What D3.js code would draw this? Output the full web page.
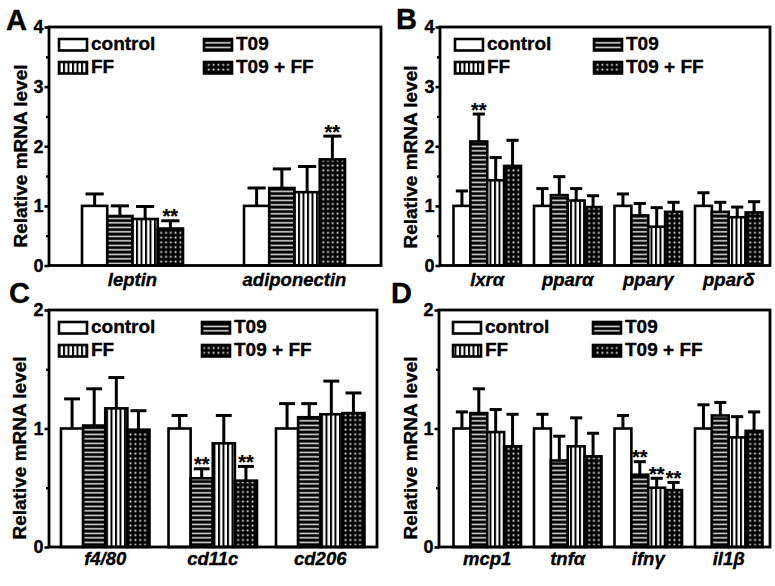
<!DOCTYPE html>
<html><head><meta charset="utf-8">
<script src="https://cdn.jsdelivr.net/npm/d3@7"></script>
<style>
body{margin:0;background:#fff}
text{font-family:"Liberation Sans",Arial,Helvetica,sans-serif;font-weight:bold;fill:#000;stroke:#000;stroke-width:0.35px}
</style></head>
<body><svg id="chart" width="775" height="586"></svg>
<script>
// ---------- data ----------
const seriesNames = ["control", "T09", "FF", "T09 + FF"];

const catsA = ["leptin", "adiponectin"];
const meanA = [[1.00, 0.83, 0.78, 0.62], [1.00, 1.30, 1.23, 1.78]];
const sdA   = [[0.20, 0.17, 0.21, 0.13], [0.30, 0.32, 0.43, 0.39]];
const sigA  = [[0, 3], [1, 3]];

const catsB = ["lxrα", "pparα", "pparγ", "pparδ"];
const meanB = [[1.00, 2.08, 1.43, 1.67], [1.00, 1.18, 1.09, 0.98], [1.00, 0.84, 0.65, 0.90], [1.00, 0.90, 0.81, 0.89]];
const sdB   = [[0.25, 0.46, 0.38, 0.43], [0.29, 0.31, 0.20, 0.19], [0.20, 0.20, 0.32, 0.16], [0.22, 0.16, 0.17, 0.18]];
const sigB  = [[0, 1]];

const catsC = ["f4/80", "cd11c", "cd206"];
const meanC = [[1.00, 1.025, 1.17, 0.99], [1.00, 0.58, 0.875, 0.56], [1.00, 1.095, 1.12, 1.13]];
const sdC   = [[0.25, 0.31, 0.26, 0.16], [0.11, 0.08, 0.235, 0.12], [0.21, 0.115, 0.28, 0.17]];
const sigC  = [[1, 1], [1, 3]];

const catsD = ["mcp1", "tnfα", "ifnγ", "il1β"];
const meanD = [[1.00, 1.13, 0.97, 0.85], [1.00, 0.73, 0.85, 0.765], [1.00, 0.61, 0.50, 0.48], [1.00, 1.11, 0.925, 0.98]];
const sdD   = [[0.14, 0.205, 0.19, 0.27], [0.12, 0.205, 0.24, 0.195], [0.11, 0.11, 0.08, 0.065], [0.20, 0.11, 0.175, 0.16]];
const sigD  = [[2, 1], [2, 2], [2, 3]];

const yTicks4 = [0, 1, 2, 3, 4];
const yMinor4 = [0.5, 1.5, 2.5, 3.5];
const yTicks2 = [0, 1, 2];
const yMinor2 = [0.5, 1.5];
const yTitle = "Relative mRNA level";
const panelLetters = ["A", "B", "C", "D"];

// ---------- layout ----------
const svg = d3.select("#chart");
const defs = svg.append("defs");
const pH = defs.append("pattern").attr("id", "pH").attr("patternUnits", "userSpaceOnUse").attr("width", 4.5).attr("height", 4.5);
pH.append("rect").attr("width", 4.5).attr("height", 4.5).attr("fill", "#000");
pH.append("rect").attr("y", 1.6).attr("width", 4.5).attr("height", 1.5).attr("fill", "#e6e6e6");
const pV = defs.append("pattern").attr("id", "pV").attr("patternUnits", "userSpaceOnUse").attr("width", 4.5).attr("height", 4.5);
pV.append("rect").attr("width", 4.5).attr("height", 4.5).attr("fill", "#fff");
pV.append("rect").attr("x", 0).attr("width", 2).attr("height", 4.5).attr("fill", "#000");
const pD = defs.append("pattern").attr("id", "pD").attr("patternUnits", "userSpaceOnUse").attr("width", 4.8).attr("height", 4.8);
pD.append("rect").attr("width", 4.8).attr("height", 4.8).attr("fill", "#000");
pD.append("rect").attr("x", 1.5).attr("y", 1.5).attr("width", 1.8).attr("height", 1.8).attr("fill", "#f0f0f0");
const fills = ["#fff", "url(#pH)", "url(#pV)", "url(#pD)"];

const panels = [
  {cats: catsA, mean: meanA, sd: sdA, sig: sigA, ymax: 4, ticks: yTicks4, minor: yMinor4,
   left: 49, right: 381, top: 27, bottom: 265.5, band: [82, 345], pad: 0.3765,
   leg: [59, 204], legY: [39, 62], labelY: 286, title: [26.5, 156], letter: [6, 29.5]},
  {cats: catsB, mean: meanB, sd: sdB, sig: sigB, ymax: 4, ticks: yTicks4, minor: yMinor4,
   left: 440, right: 770, top: 27, bottom: 265.5, band: [453.5, 762.5], pad: 0.1615,
   leg: [455, 594], legY: [39, 62], labelY: 286, title: [416.5, 157], letter: [396, 28.5]},
  {cats: catsC, mean: meanC, sd: sdC, sig: sigC, ymax: 2, ticks: yTicks2, minor: yMinor2,
   left: 49, right: 377, top: 310, bottom: 547, band: [61, 364.5], pad: 0.1767,
   leg: [59, 202], legY: [322, 345], labelY: 565, title: [26, 448], letter: [9, 303]},
  {cats: catsD, mean: meanD, sd: sdD, sig: sigD, ymax: 2, ticks: yTicks2, minor: yMinor2,
   left: 439, right: 770, top: 310, bottom: 547, band: [453.5, 762.5], pad: 0.1615,
   leg: [453, 593], legY: [322, 345], labelY: 565, title: [416.5, 448], letter: [391, 303]}
];

panels.forEach((p, pi) => {
  const g = svg.append("g");
  const y = d3.scaleLinear().domain([0, p.ymax]).range([p.bottom, p.top]);
  const x0 = d3.scaleBand().domain(p.cats).range(p.band).paddingInner(p.pad).paddingOuter(0);
  const x1 = d3.scaleBand().domain(d3.range(seriesNames.length)).range([0, x0.bandwidth()]);
  const bw = x1.bandwidth();

  // bars
  p.cats.forEach((c, ci) => {
    const gg = g.append("g").attr("transform", `translate(${x0(c)},0)`);
    gg.selectAll("rect").data(p.mean[ci]).join("rect")
      .attr("x", (d, si) => x1(si)).attr("width", bw)
      .attr("y", d => y(d)).attr("height", d => y(0) - y(d))
      .attr("fill", (d, si) => fills[si]).attr("stroke", "#000").attr("stroke-width", 2.6);
    // error bars
    p.mean[ci].forEach((m, si) => {
      const cx = x1(si) + bw / 2, top = y(m + p.sd[ci][si]);
      gg.append("line").attr("x1", cx).attr("x2", cx).attr("y1", y(m)).attr("y2", top)
        .attr("stroke", "#000").attr("stroke-width", 3);
      gg.append("line").attr("x1", cx - bw * 0.36).attr("x2", cx + bw * 0.36).attr("y1", top).attr("y2", top)
        .attr("stroke", "#000").attr("stroke-width", 3);
    });
  });

  // significance
  p.sig.forEach(([ci, si]) => {
    const m = p.mean[ci][si], top = y(m + p.sd[ci][si]);
    g.append("text").attr("x", x0(p.cats[ci]) + x1(si) + bw / 2).attr("y", top + 2.5)
      .attr("text-anchor", "middle").style("font-size", "20px").style("stroke-width", "0.2px").text("**");
  });

  // axes
  const ax = g.append("g").attr("transform", `translate(${p.left},0)`)
    .call(d3.axisLeft(y).tickValues(p.ticks).tickFormat(d3.format("d")).tickSize(4.5).tickPadding(1));
  ax.select(".domain").remove();
  ax.selectAll("line").attr("stroke-width", 2.6);
  ax.selectAll("text").style("font-size", "18px").style("font-family", "'Liberation Sans',Arial,sans-serif")
    .style("font-weight", "bold").style("stroke", "#000").style("stroke-width", "0.35px");
  const axm = g.append("g").attr("transform", `translate(${p.left},0)`)
    .call(d3.axisLeft(y).tickValues(p.minor).tickFormat("").tickSize(3));
  axm.select(".domain").remove();
  axm.selectAll("line").attr("stroke-width", 2.4);

  // frame
  g.append("rect").attr("x", p.left).attr("y", p.top).attr("width", p.right - p.left).attr("height", p.bottom - p.top)
    .attr("fill", "none").attr("stroke", "#000").attr("stroke-width", 2.8);

  // category labels
  g.selectAll(".cat").data(p.cats).join("text").attr("class", "cat")
    .attr("x", c => x0(c) + x0.bandwidth() / 2).attr("y", p.labelY)
    .attr("text-anchor", "middle").style("font-size", "18.5px").style("font-style", "italic").text(c => c);

  // y title
  g.append("text").attr("transform", `translate(${p.title[0]},${p.title[1]}) rotate(-90)`)
    .attr("text-anchor", "middle").style("font-size", "19px").text(yTitle);

  // panel letter
  g.append("text").attr("x", p.letter[0]).attr("y", p.letter[1]).style("font-size", "29px").text(panelLetters[pi]);

  // legend
  seriesNames.forEach((s, si) => {
    const lx = p.leg[si % 2 === 0 ? 0 : 1];
    const ly = p.legY[si < 2 ? 0 : 1];
    g.append("rect").attr("x", lx).attr("y", ly).attr("width", 28).attr("height", 11.5)
      .attr("fill", fills[si]).attr("stroke", "#000").attr("stroke-width", 2.6);
    g.append("text").attr("x", lx + 32).attr("y", ly + 11).style("font-size", "19px").text(s);
  });
});
</script></body></html>
